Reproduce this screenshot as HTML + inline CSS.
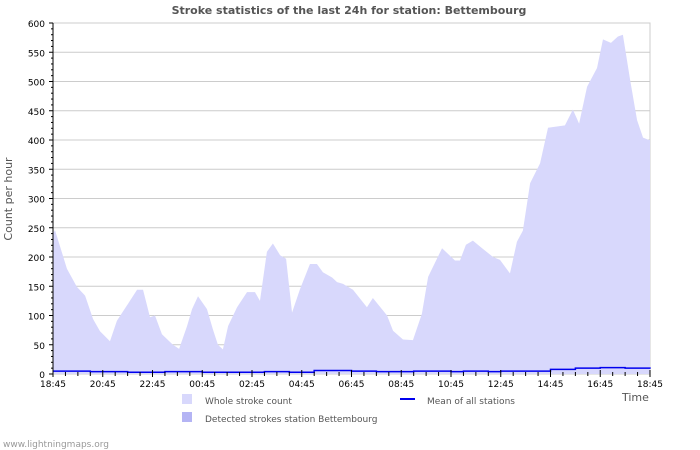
<!DOCTYPE html>
<html><head><meta charset="utf-8"><style>
body{margin:0;background:#fff;font-family:"DejaVu Sans","Liberation Sans",sans-serif;}
svg{display:block}
</style></head><body>
<svg id="c" width="700" height="450" font-family="DejaVu Sans, Liberation Sans, sans-serif">
<text x="349" y="14" text-anchor="middle" font-size="11" font-weight="bold" fill="#555">Stroke statistics of the last 24h for station: Bettembourg</text>
<text transform="translate(12,199) rotate(-90)" text-anchor="middle" font-size="11" fill="#555">Count per hour</text>
<text x="622" y="401" font-size="11" fill="#555">Time</text>
<rect x="182" y="394" width="10" height="10" fill="#d8d8fc"/>
<text x="205" y="404" font-size="9" fill="#555">Whole stroke count</text>
<rect x="182" y="412" width="10" height="10" fill="#b4b4f4"/>
<text x="205" y="422" font-size="9" fill="#555">Detected strokes station Bettembourg</text>
<line x1="400" y1="399" x2="415" y2="399" stroke="#0000ee" stroke-width="2"/>
<text x="427" y="404" font-size="9" fill="#555">Mean of all stations</text>
<text x="3" y="447" font-size="9" fill="#999">www.lightningmaps.org</text>
<g id="plot"></g>
</svg>
<script>
const hours=[0,0.08,0.56,0.96,1.29,1.61,1.89,2.29,2.57,2.97,3.38,3.62,3.90,4.10,4.38,4.82,5.07,5.39,5.59,5.83,6.19,6.43,6.63,6.83,7.04,7.40,7.80,8.12,8.32,8.60,8.84,9.13,9.37,9.61,9.93,10.33,10.61,10.85,11.22,11.42,11.66,11.94,12.06,12.62,12.86,13.43,13.67,14.07,14.47,14.83,15.08,15.64,16.16,16.36,16.60,16.88,17.25,17.69,17.97,18.37,18.65,18.89,19.18,19.58,19.90,20.58,20.90,21.15,21.47,21.87,22.11,22.43,22.71,22.91,23.20,23.48,23.72,23.96,24];
const wholeCount=[240,246,180,149,134,94,73,56,91,117,144,144,97,100,68,50,43,82,111,133,111,76,50,42,82,114,140,140,125,209,223,203,197,105,145,188,188,174,165,157,154,147,144,114,130,100,74,59,58,103,166,215,194,194,221,228,215,200,195,172,226,245,326,360,421,425,452,428,491,523,572,566,577,580,503,434,404,400,400];
const meanHours=[0,1.5,3,4.5,6,8.5,9.5,10.5,12,13,14.5,16,16.5,17.5,18,19,20,21,21.5,22,23,24];
const meanVals=[5,4,3,4,3,4,3,6,5,4,5,4,5,4,5,5,8,10,10,11,10,9];
const detected=[0];
const yTicks=[0,50,100,150,200,250,300,350,400,450,500,550,600];
const xLabels=["18:45","20:45","22:45","00:45","02:45","04:45","06:45","08:45","10:45","12:45","14:45","16:45","18:45"];
const X0=53,X1=650,Y0=374,Y1=23;
const xs=h=>X0+h/24*(X1-X0);
const ys=v=>Y0-v/600*(Y0-Y1);
const NS="http://www.w3.org/2000/svg";
const g=document.getElementById('plot');
function mk(t,a){const e=document.createElementNS(NS,t);for(const k in a)e.setAttribute(k,a[k]);g.appendChild(e);return e;}
yTicks.forEach(v=>{
 const l=mk('line',{x1:X0,x2:X1,y1:ys(v),y2:ys(v),stroke:v===0?'#000':'#ccc','stroke-width':1});
 
 
 const t=mk('text',{x:X0-8,y:ys(v)+4,'text-anchor':'end','font-size':9,fill:'#000'});
 t.textContent=v;
 
 
});
const fr=mk('rect',{x:X0,y:Y1,width:X1-X0,height:Y0-Y1,fill:'none',stroke:'#ccc'});


let d='M'+xs(0)+','+ys(0);
hours.forEach((h,i)=>{d+=' L'+xs(h)+','+ys(wholeCount[i]);});
d+=' L'+xs(24)+','+ys(0)+' Z';
const area=mk('path',{d:d,fill:'#d8d8fc',stroke:'none'});


let m='';
meanHours.forEach((h,i)=>{const y=ys(meanVals[i]);m+=(i?' L'+xs(h)+','+ys(meanVals[i-1])+' L':'M')+xs(h)+','+y;});
const ml=mk('path',{d:m,fill:'none',stroke:'#0000ee','stroke-width':1.5});


const ya=mk('line',{x1:X0,x2:X0,y1:Y1,y2:Y0,stroke:'#000'});


for(let v=0;v<=600;v+=10){const l=mk('line',{x1:X0-(v%50?2:4),x2:X0,y1:ys(v),y2:ys(v),stroke:'#000'});
 
 }
for(let h=0;h<=24;h+=0.5){const maj=h%2===0;const l=mk('line',{x1:xs(h),x2:xs(h),y1:Y0-(maj?4:2),y2:Y0+(maj?3:2),stroke:'#000'});
 
 }
xLabels.forEach((s,i)=>{const t=mk('text',{x:xs(i*2),y:387,'text-anchor':'middle','font-size':9,fill:'#000'});
 t.textContent=s;
 
 });
</script>
</body></html>
